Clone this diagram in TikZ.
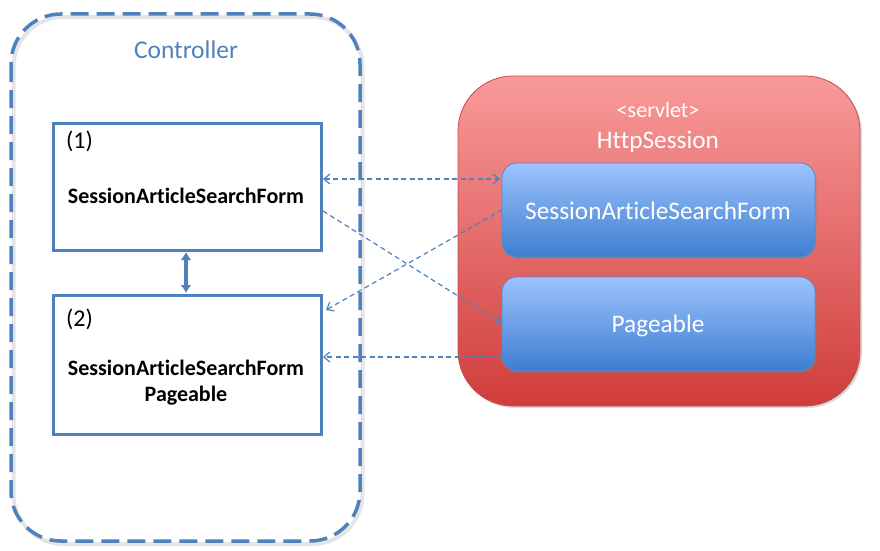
\documentclass[tikz,border=0pt]{standalone}
\usepackage{fontspec}
\setmainfont{Carlito}[Ligatures=NoCommon]
\usetikzlibrary{arrows.meta,shadows}
\definecolor{ctrlblue}{HTML}{4F81BD}
\definecolor{redtop}{HTML}{F99A9A}
\definecolor{redbot}{HTML}{CF3D3B}
\definecolor{redline}{HTML}{C0504D}
\definecolor{bluetop}{HTML}{9CC3FF}
\definecolor{bluebot}{HTML}{3E7ECF}
\definecolor{blueline}{HTML}{5A8AC6}
\tikzset{
  ctrlbox/.style={draw=ctrlblue, line width=3pt, fill=white, inner sep=0pt},
  sessbox/.style={draw=blueline, line width=0.8pt, rounded corners=15pt, top color=bluetop, bottom color=bluebot,
    drop shadow={shadow xshift=1.5pt, shadow yshift=-2pt, opacity=0.35}},
  dasharrow/.style={draw=ctrlblue, line width=1.2pt, dash pattern=on 5pt off 3.5pt, -{Straight Barb[length=6pt,width=10pt]}},
  dashboth/.style={dasharrow, {Straight Barb[length=6pt,width=10pt]}-{Straight Barb[length=6pt,width=10pt]}},
  lbl/.style={inner sep=0pt, anchor=base},
  boldtxt/.style={lbl, font=\bfseries\fontsize{22}{26}\selectfont},
  whitetxt/.style={lbl, text=white, font=\fontsize{25.3}{30}\selectfont}
}
\begin{document}
\begin{tikzpicture}[x=1pt,y=-1pt]
\useasboundingbox (0,0) rectangle (880,551);
% Controller container
\draw[gray!20, line width=4pt, rounded corners=50pt] (13.5,17) rectangle (362.5,544);
\draw[ctrlblue, line width=3.5pt, dash pattern=on 18pt off 8pt, rounded corners=50pt] (11,14) rectangle (360,541);
\node[lbl, text=ctrlblue, font=\fontsize{25.5}{30}\selectfont] (ctrl) at (186,59) {Controller};
% Boxes
\draw[ctrlbox] (53,123) rectangle (321,250);
\node[lbl, anchor=base west, font=\fontsize{24}{28}\selectfont] (n1) at (66,148) {(1)};
\node[boldtxt] (t1) at (186,203) {SessionArticleSearchForm};
\draw[ctrlbox] (53,295) rectangle (321,434);
\node[lbl, anchor=base west, font=\fontsize{24}{28}\selectfont] (n2) at (66,326) {(2)};
\node[boldtxt] (t2) at (186,375) {SessionArticleSearchForm};
\node[boldtxt] (t3) at (186,401) {Pageable};
\coordinate (b1s) at (186,252);
\coordinate (b2n) at (186,293);
\draw[ctrlblue, line width=3.5pt, {Latex[length=8pt,width=11pt]}-{Latex[length=8pt,width=11pt]}] (b1s) -- (b2n);
% HttpSession
\draw[redline, line width=0.8pt, rounded corners=55pt, top color=redtop, bottom color=redbot,
  drop shadow={shadow xshift=2pt, shadow yshift=-2pt, opacity=0.3}] (458,76) rectangle (860,406);
\node[lbl, text=white, font=\fontsize{22}{26}\selectfont] (srv) at (658,117) {<servlet>};
\node[whitetxt] (hs) at (658,148) {HttpSession};
\draw[sessbox] (502,163) rectangle (815,257);
\node[whitetxt] (s1) at (658,219) {SessionArticleSearchForm};
\draw[sessbox] (502,277) rectangle (815,371);
\node[whitetxt] (s2) at (658,332) {Pageable};
% connectors
\coordinate (a1) at (323,179);
\coordinate (a2) at (500,179);
\draw[dashboth] (a1) -- (a2);
\coordinate (c1) at (323,211);
\coordinate (c2) at (501,323);
\draw[dasharrow] (c1) -- (c2);
\coordinate (d1) at (502,210);
\coordinate (d2) at (326,310);
\draw[dasharrow] (d1) -- (d2);
\coordinate (e1) at (502,357);
\coordinate (e2) at (323,357);
\draw[dasharrow] (e1) -- (e2);
\end{tikzpicture}
\end{document}
